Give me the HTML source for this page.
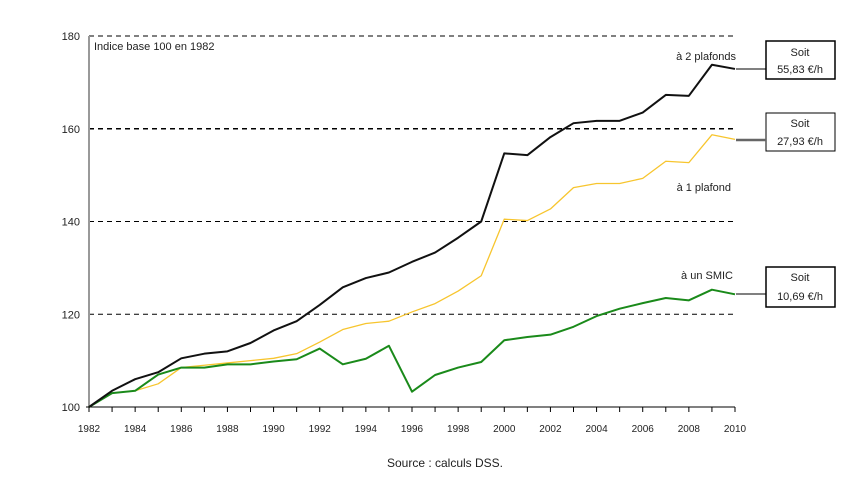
<!DOCTYPE html>
<html><head><meta charset="utf-8"><style>
body{margin:0;background:#fff;}
svg text{font-family:"Liberation Sans",sans-serif;fill:#222;}
</style></head><body>
<svg width="862" height="490">
<g id="grid"></g>
<g id="axes"></g>
<g id="series"></g>
<text x="94" y="50" font-size="11">Indice base 100 en 1982</text>
<text x="736" y="60" font-size="11" text-anchor="end">à 2 plafonds</text>
<text x="731" y="191" font-size="11" text-anchor="end">à 1 plafond</text>
<text x="733" y="279" font-size="11" text-anchor="end">à un SMIC</text>
<g><rect x="766" y="41" width="69" height="38" fill="#fff" stroke="#000" stroke-width="1.5"/><text x="800" y="56" font-size="11" text-anchor="middle">Soit</text><text x="800" y="73" font-size="11" text-anchor="middle">55,83 €/h</text></g>
<g><rect x="766" y="113" width="69" height="38" fill="#fff" stroke="#000"/><text x="800" y="127" font-size="11" text-anchor="middle">Soit</text><text x="800" y="145" font-size="11" text-anchor="middle">27,93 €/h</text></g>
<g><rect x="766" y="267" width="69" height="40" fill="#fff" stroke="#000" stroke-width="1.5"/><text x="800" y="281" font-size="11" text-anchor="middle">Soit</text><text x="800" y="300" font-size="11" text-anchor="middle">10,69 €/h</text></g>
<line x1="736" y1="69" x2="766" y2="69" stroke="#000"/>
<line x1="736" y1="140" x2="766" y2="140" stroke="#666" stroke-width="2.5"/>
<line x1="736" y1="294" x2="766" y2="294" stroke="#000"/>
<text x="445" y="467" font-size="12" text-anchor="middle">Source : calculs DSS.</text>
</svg>
<script>
const years=[];for(let y=1982;y<=2010;y++)years.push(y);
const deuxPlafonds=[100,103.5,106,107.5,110.5,111.5,112,113.8,116.5,118.5,122,125.8,127.8,129,131.3,133.3,136.5,140,154.7,154.3,158.2,161.2,161.7,161.7,163.5,167.3,167.1,173.8,172.9];
const unPlafond=[100,103,103.5,105,108.5,109,109.5,110,110.5,111.5,114,116.7,118,118.5,120.5,122.3,125,128.3,140.5,140.2,142.7,147.3,148.2,148.2,149.3,153,152.7,158.7,157.7];
const smic=[100,103,103.5,107,108.5,108.5,109.2,109.2,109.8,110.3,112.6,109.2,110.4,113.2,103.3,106.9,108.5,109.7,114.4,115.1,115.6,117.3,119.6,121.2,122.4,123.5,123,125.3,124.3];
const yTicks=[100,120,140,160,180];
const xLabels=[1982,1984,1986,1988,1990,1992,1994,1996,1998,2000,2002,2004,2006,2008,2010];
const NS='http://www.w3.org/2000/svg';
const X=y=>89+(y-1982)*(735-89)/28;
const Y=v=>407-(v-100)*(407-36)/80;
function mk(tag,attrs,parent){const e=document.createElementNS(NS,tag);for(const k in attrs)e.setAttribute(k,attrs[k]);document.getElementById(parent).appendChild(e);return e;}
yTicks.forEach(v=>{
 if(v>100){const l=mk('line',{x1:89,x2:735,y1:Y(v),y2:Y(v),stroke:'#000','stroke-width':v==160?1.4:1,'stroke-dasharray':'5,4'},'grid');
 
 }
 const t=mk('text',{x:80,y:Y(v)+4,'font-size':11,'text-anchor':'end'},'axes');t.textContent=v;
 
 
});
const ax=mk('line',{x1:89,x2:89,y1:36,y2:407,stroke:'#999','stroke-width':2},'axes');


const bx=mk('line',{x1:86,x2:735,y1:407,y2:407,stroke:'#000'},'axes');


years.forEach(y=>{mk('line',{x1:X(y),x2:X(y),y1:407,y2:412,stroke:'#000'},'axes');});
xLabels.forEach(y=>{const t=mk('text',{x:X(y),y:432,'font-size':10,'text-anchor':'middle'},'axes');t.textContent=y;
 
 });
function line(vals,color,w,name){const p=mk('polyline',{points:vals.map((v,i)=>X(years[i])+','+Y(v)).join(' '),fill:'none',stroke:color,'stroke-width':w,'stroke-linejoin':'round'},'series');
 
 }
line(unPlafond,'#f7c52e',1.3,'series-1-plafond');
line(smic,'#1a8a1a',2,'series-smic');
line(deuxPlafonds,'#111',2,'series-2-plafonds');
</script>
</body></html>
